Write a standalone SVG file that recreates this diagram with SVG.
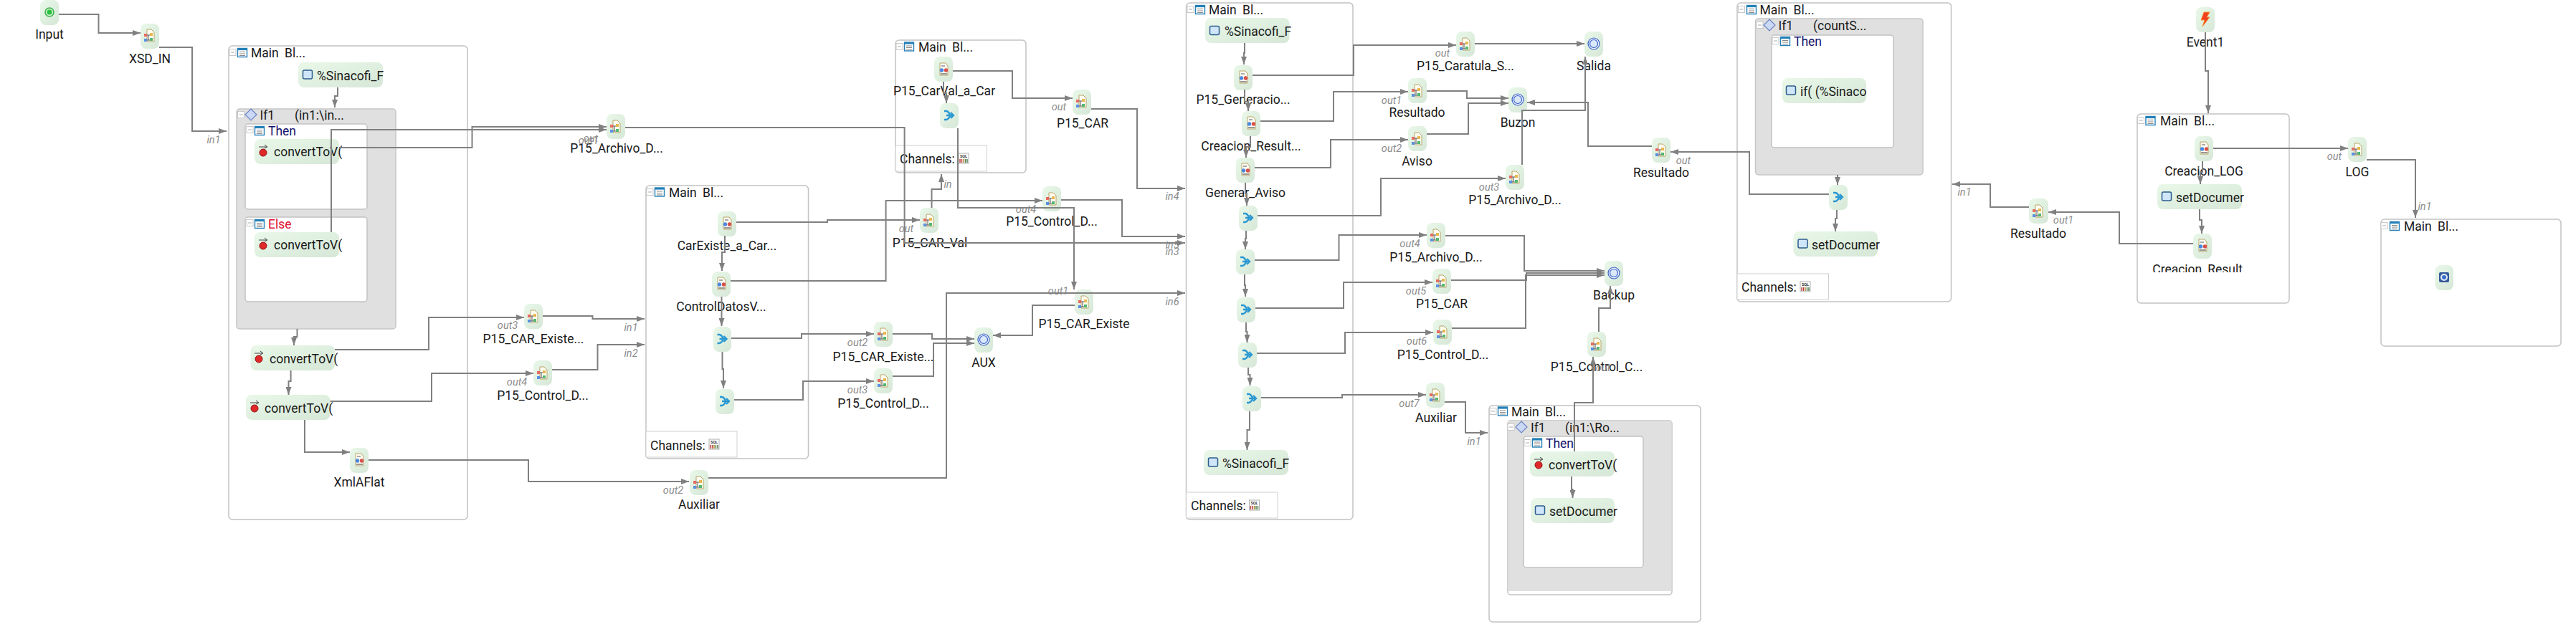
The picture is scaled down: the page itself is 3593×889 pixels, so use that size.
<svg xmlns="http://www.w3.org/2000/svg" width="3593" height="889" viewBox="0 0 3593 889">
<style>
text{font-family:Roboto,"Liberation Sans",Arial,sans-serif;font-size:17.5px;fill:#1a1a1a}
.lb{text-anchor:middle}
.ti{word-spacing:4px}
.pt{text-anchor:middle;font-style:italic;font-size:14.5px;fill:#8c8c8c}
.then{fill:#14146e}
.else{fill:#e01030}
.nb{fill:url(#ng)}
.box{fill:#fff;stroke:#c2c2c2;stroke-width:1.5}
.ifb{fill:#e0e0e0;stroke:#c6c6c6;stroke-width:1.5}
.ch{fill:#fff;stroke:#cfcfcf;stroke-width:1}
.cn path{fill:none;stroke:#808080;stroke-width:2;marker-end:url(#a)}
</style>
<defs>
<linearGradient id="ng" x1="0" y1="0" x2="1" y2="1"><stop offset="0" stop-color="#e9f8e9"/><stop offset="1" stop-color="#d6e7d7"/></linearGradient>
<marker id="a" viewBox="0 0 11 8" refX="11" refY="4" markerWidth="11" markerHeight="8" markerUnits="userSpaceOnUse" orient="auto"><path d="M0 0L11 4L0 8z" fill="#808080"/></marker>
<clipPath id="clipL"><rect x="2990" y="360" width="170" height="20"/></clipPath>
<g id="i-start"><circle r="6" fill="#c8f0c8" stroke="#38b048" stroke-width="1.500"/><circle r="3.500" fill="#2cc040"/></g>
<g id="i-doc"><path d="M-3-9H3L7-5V8H-3z" fill="#fffdf2" stroke="#b8a468"/><rect x="-7" y="-3" width="4" height="4" fill="#e86a60"/><rect x="1" y="-4" width="4" height="4" fill="#e8b850"/><rect x="-7" y="4" width="4" height="4" fill="#5a90e0"/><rect x="1" y="3" width="4" height="4" fill="#50b870"/><path d="M-3-1H1M-3 6H1M-1-1V6" stroke="#556" fill="none"/></g>
<g id="i-xf"><path d="M-5-9H3L6-5V8H-5z" fill="#fffdf2" stroke="#b8a468"/><path d="M-3-5H2" stroke="#556" stroke-width="1"/><circle cx="-2.500" cy="1" r="2.700" fill="#4a88e0"/><circle cx="3.500" cy="1" r="2.700" fill="#d8504c"/><path d="M-4 6H5" stroke="#334" stroke-width="1"/></g>
<g id="i-merge"><path d="M-7-6H-4C-1-6 0-2 2 0C0 2-1 6-4 6H-7M-4 0H6M2-4L6 0L2 4" fill="none" stroke="#2a98d2" stroke-width="2.400"/></g>
<g id="i-end"><circle r="8" fill="#eaf2fc" stroke="#3a60c8" stroke-width="1.200"/><circle r="5.500" fill="#dbe8fa" stroke="#3a60c8" stroke-width="1.200"/></g>
<g id="i-assign"><rect x="-6.500" y="-6" width="13" height="12" rx="2" fill="#cfe6fa" stroke="#2c5c8c" stroke-width="1.500"/></g>
<g id="i-call"><circle cy="1" r="5" fill="#e02828" stroke="#901010" stroke-width="1"/><path d="M-6-7H5M2-10L6-7L2-5" fill="none" stroke="#444" stroke-width="1"/></g>
<g id="i-event"><path d="M-2-10H6L2-3H6L-4 10L-1 1H-6z" fill="#f04020" stroke="#f89030" stroke-width="1"/></g>
<g id="i-stop"><rect x="-7" y="-7" width="14" height="14" rx="2" fill="#355a98"/><circle r="5" fill="#e4ecf8"/><circle r="3" fill="#3a70c8"/></g>
<g id="i-table"><rect x="-6.500" y="-6" width="13" height="12" fill="#fff" stroke="#2480b8" stroke-width="1.400"/><rect x="-6.500" y="-6" width="13" height="2.600" fill="#2480b8"/><path d="M-4-1H4M-4 1.500H4M-4 4H4" stroke="#888"/></g>
<g id="i-minus"><rect x="-4.500" y="-4.500" width="9" height="9" fill="#fff" stroke="#c8c8c8"/><path d="M-2.500 0H2.500" stroke="#aaa"/></g>
<g id="i-diamond"><path d="M0-8L8 0L0 8L-8 0z" fill="#ccd9f6" stroke="#6a84c4" stroke-width="1.200"/></g>
<g id="i-sql"><rect x="-7" y="-7" width="14" height="14" fill="#fff" stroke="#b0b0b0"/><text x="0" y="-1" style="font-size:5.500px;font-weight:bold;text-anchor:middle;fill:#333">SQL</text><path d="M-5 1V6M-2.500 1V6" stroke="#c04040" stroke-width="1.500"/><path d="M0 1V6" stroke="#b09030" stroke-width="1.500"/><path d="M2.500 1V6M5 1V6" stroke="#508050" stroke-width="1.500"/></g>
</defs>
<rect width="3593" height="889" fill="#fff"/>

<g id="blocks">
<g id="main1"><rect class="box" x="319" y="64" width="333" height="661" rx="5"/><use href="#i-minus" x="324.500" y="73"/><use href="#i-table" x="338" y="73.500"/><text class="ti" x="350" y="80">Main Bl...</text></g>
<g id="if1"><rect class="ifb" x="330" y="152" width="222" height="307" rx="4"/><use href="#i-minus" x="336" y="160"/><use href="#i-diamond" x="350" y="160"/><text x="362.500" y="167">If1<tspan x="411">(in1:\in...</tspan></text></g>
<g id="then1"><rect class="box" x="342" y="173" width="170" height="119" rx="4"/><use href="#i-minus" x="348.500" y="181"/><use href="#i-table" x="362" y="182.500"/><text class="then" x="374" y="189">Then</text></g>
<g id="else1"><rect class="box" x="342" y="303" width="170" height="118" rx="4"/><use href="#i-minus" x="348.500" y="311"/><use href="#i-table" x="362" y="312.500"/><text class="else" x="374" y="319">Else</text></g>
<g id="main2"><rect class="box" x="901" y="259" width="226.500" height="381" rx="5"/><use href="#i-minus" x="906.500" y="268"/><use href="#i-table" x="920" y="268"/><text class="ti" x="933" y="275">Main Bl...</text><rect class="ch" x="901" y="602" width="127" height="36"/><text x="907" y="628">Channels:</text><use href="#i-sql" x="996" y="620"/></g>
<g id="main3"><rect class="box" x="1249" y="56" width="182" height="185" rx="5"/><use href="#i-minus" x="1254.500" y="65"/><use href="#i-table" x="1268" y="65"/><text class="ti" x="1281" y="72">Main Bl...</text><rect class="ch" x="1249" y="203" width="127.500" height="36"/><text x="1255" y="228">Channels:</text><use href="#i-sql" x="1344" y="221"/></g>
<g id="main4"><rect class="box" x="1654.500" y="4" width="232.500" height="721" rx="5"/><use href="#i-minus" x="1660.500" y="13"/><use href="#i-table" x="1674" y="13.500"/><text class="ti" x="1686" y="20">Main Bl...</text><rect class="ch" x="1654.500" y="687" width="127.500" height="36"/><text x="1661" y="712">Channels:</text><use href="#i-sql" x="1749.500" y="705"/></g>
<g id="main5"><rect class="box" x="2423" y="4" width="298.500" height="417" rx="5"/><use href="#i-minus" x="2429" y="13"/><use href="#i-table" x="2443" y="13.500"/><text class="ti" x="2454.500" y="20">Main Bl...</text><rect class="ch" x="2423" y="382" width="127.500" height="36"/><text x="2429" y="407">Channels:</text><use href="#i-sql" x="2518" y="400"/></g>
<g id="if5"><rect class="ifb" x="2448.500" y="26" width="233.500" height="218" rx="4"/><use href="#i-minus" x="2454.500" y="35"/><use href="#i-diamond" x="2468" y="35"/><text x="2480.500" y="42">If1<tspan x="2529">(countS...</tspan></text></g>
<g id="then5"><rect class="box" x="2471" y="49" width="170" height="157" rx="4"/><use href="#i-minus" x="2476.500" y="57"/><use href="#i-table" x="2490" y="57.500"/><text class="then" x="2502" y="64">Then</text></g>
<g id="main6"><rect class="box" x="2077" y="566" width="295" height="302" rx="5"/><use href="#i-minus" x="2082.500" y="574"/><use href="#i-table" x="2096" y="574"/><text class="ti" x="2108" y="581">Main Bl...</text></g>
<g id="if6"><rect class="box" x="2103" y="587" width="229" height="243" rx="4"/><rect x="2103.500" y="587.500" width="228" height="237.500" fill="#e0e0e0"/><use href="#i-minus" x="2107.500" y="596"/><use href="#i-diamond" x="2122" y="596"/><text x="2135" y="603">If1<tspan x="2183">(in1:\Ro...</tspan></text></g>
<g id="then6"><rect class="box" x="2125" y="609" width="167" height="183" rx="4"/><use href="#i-minus" x="2130.500" y="618"/><use href="#i-table" x="2144" y="618"/><text class="then" x="2156" y="625">Then</text></g>
<g id="main7"><rect class="box" x="2981" y="159" width="212" height="264" rx="5"/><use href="#i-minus" x="2986" y="168"/><use href="#i-table" x="2999.500" y="168.500"/><text class="ti" x="3013" y="175">Main Bl...</text></g>
<g id="main8"><rect class="box" x="3321" y="306" width="251" height="177" rx="5"/><use href="#i-minus" x="3325.500" y="315"/><use href="#i-table" x="3340" y="315.500"/><text class="ti" x="3353" y="322">Main Bl...</text></g>
</g>

<g id="nodes">
<g id="n-input"><rect class="nb" x="56" y="0" width="26" height="35" rx="8"/><use href="#i-start" x="69" y="17"/><text class="lb" x="69" y="54">Input</text></g>
<g id="n-xsd-in"><rect class="nb" x="196" y="33" width="26" height="35" rx="8"/><use href="#i-doc" x="208" y="50"/><text class="lb" x="209" y="88">XSD_IN</text></g>
<g id="n-sinacofi1"><rect class="nb" x="416" y="87" width="118" height="35" rx="8"/><use href="#i-assign" x="429" y="104"/><text x="442" y="112">%Sinacofi_F</text></g>
<g id="n-conv1"><rect class="nb" x="355" y="194" width="118" height="35" rx="8"/><use href="#i-call" x="367" y="212"/><text x="382" y="218">convertToV(</text></g>
<g id="n-conv2"><rect class="nb" x="355" y="324" width="118" height="35" rx="8"/><use href="#i-call" x="367" y="342"/><text x="382" y="348">convertToV(</text></g>
<g id="n-conv3"><rect class="nb" x="349.500" y="482" width="117.500" height="35" rx="8"/><use href="#i-call" x="361" y="500"/><text x="376" y="507">convertToV(</text></g>
<g id="n-conv4"><rect class="nb" x="343" y="551" width="117.500" height="35" rx="8"/><use href="#i-call" x="355" y="569"/><text x="369" y="576">convertToV(</text></g>
<g id="n-xmlaflat"><rect class="nb" x="488" y="625" width="26" height="35" rx="8"/><use href="#i-xf" x="501" y="642"/><text class="lb" x="501" y="679">XmlAFlat</text></g>
<g id="n-archivo1"><rect class="nb" x="846" y="159" width="26" height="35" rx="8"/><use href="#i-doc" x="858" y="177"/><text class="lb" x="860" y="213">P15_Archivo_D...</text><text class="pt" x="821" y="201">out1</text><text class="pt" x="824" y="198">out</text></g>
<g id="n-carexiste1"><rect class="nb" x="731" y="424" width="26" height="35" rx="8"/><use href="#i-doc" x="743" y="442"/><text class="lb" x="744" y="479">P15_CAR_Existe...</text><text class="pt" x="708" y="459">out3</text></g>
<g id="n-control1"><rect class="nb" x="744" y="503" width="26" height="35" rx="8"/><use href="#i-doc" x="756" y="521"/><text class="lb" x="757" y="558">P15_Control_D...</text><text class="pt" x="721" y="538">out4</text></g>
<g id="n-auxiliar1"><rect class="nb" x="962" y="656" width="26" height="35" rx="8"/><use href="#i-doc" x="974" y="674"/><text class="lb" x="975" y="710">Auxiliar</text><text class="pt" x="939" y="689">out2</text></g>
<g id="n-carexiste-a"><rect class="nb" x="1001" y="295" width="26" height="35" rx="8"/><use href="#i-xf" x="1014" y="312"/><text class="lb" x="1014" y="349">CarExiste_a_Car...</text></g>
<g id="n-controldatos"><rect class="nb" x="993" y="379" width="26" height="35" rx="8"/><use href="#i-xf" x="1006" y="396"/><text class="lb" x="1006" y="434">ControlDatosV...</text></g>
<g id="n-merge1"><rect class="nb" x="995" y="456" width="25" height="35" rx="8"/><use href="#i-merge" x="1007.500" y="473"/></g>
<g id="n-merge2"><rect class="nb" x="998" y="543" width="26" height="35" rx="8"/><use href="#i-merge" x="1011" y="560"/></g>
<g id="n-carexiste2"><rect class="nb" x="1219" y="449" width="26" height="35" rx="8"/><use href="#i-doc" x="1231" y="467"/><text class="lb" x="1232" y="504">P15_CAR_Existe...</text><text class="pt" x="1196" y="483">out2</text></g>
<g id="n-control2"><rect class="nb" x="1219" y="514" width="26" height="35" rx="8"/><use href="#i-doc" x="1231" y="532"/><text class="lb" x="1232" y="569">P15_Control_D...</text><text class="pt" x="1196" y="549">out3</text></g>
<g id="n-aux"><rect class="nb" x="1359" y="457" width="26" height="35" rx="8"/><use href="#i-end" x="1372" y="474"/><text class="lb" x="1372" y="512">AUX</text></g>
<g id="n-carexiste3"><rect class="nb" x="1499" y="404" width="26" height="35" rx="8"/><use href="#i-doc" x="1511" y="422"/><text class="lb" x="1512" y="458">P15_CAR_Existe</text><text class="pt" x="1476" y="411">out1</text></g>
<g id="n-carval"><rect class="nb" x="1283" y="290" width="26" height="35" rx="8"/><use href="#i-doc" x="1295" y="308"/><text class="lb" x="1297" y="345">P15_CAR_Val</text><text class="pt" x="1264" y="324">out</text></g>
<g id="n-control3"><rect class="nb" x="1454" y="260" width="26" height="35" rx="8"/><use href="#i-doc" x="1466" y="278"/><text class="lb" x="1467" y="315">P15_Control_D...</text><text class="pt" x="1431" y="297">out4</text></g>
<g id="n-carval-a"><rect class="nb" x="1303" y="79" width="26" height="35" rx="8"/><use href="#i-xf" x="1316" y="97"/><text class="lb" x="1317" y="133">P15_CarVal_a_Car</text></g>
<g id="n-merge3"><rect class="nb" x="1311" y="144" width="26" height="35" rx="8"/><use href="#i-merge" x="1324" y="161"/></g>
<g id="n-car1"><rect class="nb" x="1496" y="125" width="26" height="35" rx="8"/><use href="#i-doc" x="1508" y="142"/><text class="lb" x="1510" y="178">P15_CAR</text><text class="pt" x="1477" y="154">out</text></g>
<g id="n-sinacofi2"><rect class="nb" x="1681" y="25" width="117.500" height="35" rx="8"/><use href="#i-assign" x="1694" y="42.500"/><text x="1708" y="50">%Sinacofi_F</text></g>
<g id="n-generacio"><rect class="nb" x="1721" y="91" width="26" height="35" rx="8"/><use href="#i-xf" x="1734" y="108"/><text class="lb" x="1734" y="145">P15_Generacio...</text></g>
<g id="n-creacion-res"><rect class="nb" x="1732" y="155" width="26" height="35" rx="8"/><use href="#i-xf" x="1745" y="172"/><text class="lb" x="1745" y="210">Creacion_Result...</text></g>
<g id="n-generar"><rect class="nb" x="1724" y="220" width="26" height="35" rx="8"/><use href="#i-xf" x="1737" y="237"/><text class="lb" x="1737" y="275">Generar_Aviso</text></g>
<g id="n-mergeA"><rect class="nb" x="1728" y="287" width="26" height="35" rx="8"/><use href="#i-merge" x="1741" y="304"/></g>
<g id="n-mergeB"><rect class="nb" x="1724" y="348" width="26" height="35" rx="8"/><use href="#i-merge" x="1737" y="365"/></g>
<g id="n-mergeC"><rect class="nb" x="1725" y="415" width="26" height="35" rx="8"/><use href="#i-merge" x="1738" y="432"/></g>
<g id="n-mergeD"><rect class="nb" x="1727" y="478" width="26" height="35" rx="8"/><use href="#i-merge" x="1740" y="495"/></g>
<g id="n-mergeE"><rect class="nb" x="1733" y="539" width="26" height="35" rx="8"/><use href="#i-merge" x="1746" y="556"/></g>
<g id="n-sinacofi3"><rect class="nb" x="1679" y="628" width="118" height="35" rx="8"/><use href="#i-assign" x="1692" y="645"/><text x="1705" y="653">%Sinacofi_F</text></g>
<g id="n-caratula"><rect class="nb" x="2031" y="44" width="26" height="35" rx="8"/><use href="#i-doc" x="2043" y="62"/><text class="lb" x="2044" y="98">P15_Caratula_S...</text><text class="pt" x="2012" y="79">out</text></g>
<g id="n-salida"><rect class="nb" x="2210" y="44" width="26" height="35" rx="8"/><use href="#i-end" x="2223" y="61"/><text class="lb" x="2223" y="98">Salida</text></g>
<g id="n-resultado1"><rect class="nb" x="1964" y="109" width="26" height="35" rx="8"/><use href="#i-doc" x="1976" y="127"/><text class="lb" x="1976.500" y="163">Resultado</text><text class="pt" x="1941" y="145">out1</text></g>
<g id="n-aviso"><rect class="nb" x="1964" y="176" width="26" height="35" rx="8"/><use href="#i-doc" x="1976" y="194"/><text class="lb" x="1976.500" y="231">Aviso</text><text class="pt" x="1941" y="212">out2</text></g>
<g id="n-buzon"><rect class="nb" x="2104" y="122" width="26" height="35" rx="8"/><use href="#i-end" x="2117" y="139"/><text class="lb" x="2117" y="177">Buzon</text></g>
<g id="n-archivo3"><rect class="nb" x="2100" y="230" width="26" height="35" rx="8"/><use href="#i-doc" x="2112" y="248"/><text class="lb" x="2113" y="285">P15_Archivo_D...</text><text class="pt" x="2077" y="266">out3</text></g>
<g id="n-resultado2"><rect class="nb" x="2304" y="192" width="26" height="35" rx="8"/><use href="#i-doc" x="2316" y="210"/><text class="lb" x="2317" y="247">Resultado</text><text class="pt" x="2348" y="229">out</text></g>
<g id="n-if-sinaco"><rect class="nb" x="2486" y="109" width="117" height="35" rx="8"/><use href="#i-assign" x="2498" y="126"/><text x="2511" y="134">if( (%Sinaco</text></g>
<g id="n-mergeF"><rect class="nb" x="2551" y="258" width="26" height="35" rx="8"/><use href="#i-merge" x="2564" y="275"/></g>
<g id="n-setdoc1"><rect class="nb" x="2501.500" y="323" width="117.500" height="35" rx="8"/><use href="#i-assign" x="2514.500" y="340"/><text x="2527" y="348">setDocumer</text></g>
<g id="n-archivo4"><rect class="nb" x="1990" y="311" width="26" height="35" rx="8"/><use href="#i-doc" x="2002" y="329"/><text class="lb" x="2003" y="365">P15_Archivo_D...</text><text class="pt" x="1966.500" y="345">out4</text></g>
<g id="n-car2"><rect class="nb" x="1998" y="375" width="26" height="35" rx="8"/><use href="#i-doc" x="2010" y="393"/><text class="lb" x="2011" y="430">P15_CAR</text><text class="pt" x="1975" y="411">out5</text></g>
<g id="n-control4"><rect class="nb" x="1999" y="446" width="26" height="35" rx="8"/><use href="#i-doc" x="2011" y="464"/><text class="lb" x="2012.500" y="501">P15_Control_D...</text><text class="pt" x="1976" y="481">out6</text></g>
<g id="n-auxiliar2"><rect class="nb" x="1989" y="534" width="26" height="35" rx="8"/><use href="#i-doc" x="2001" y="552"/><text class="lb" x="2003" y="589">Auxiliar</text><text class="pt" x="1965.500" y="568">out7</text></g>
<g id="n-backup"><rect class="nb" x="2238" y="364" width="26" height="35" rx="8"/><use href="#i-end" x="2251" y="381"/><text class="lb" x="2251" y="418">Backup</text></g>
<g id="n-control-c"><rect class="nb" x="2214" y="463" width="26" height="35" rx="8"/><use href="#i-doc" x="2226" y="481"/><text class="lb" x="2227" y="518">P15_Control_C...</text><text class="pt" x="2236" y="518">out</text></g>
<g id="n-conv5"><rect class="nb" x="2134" y="630" width="118" height="35" rx="8"/><use href="#i-call" x="2146" y="648"/><text x="2160" y="655">convertToV(</text></g>
<g id="n-setdoc2"><rect class="nb" x="2135" y="695" width="117" height="35" rx="8"/><use href="#i-assign" x="2148" y="712"/><text x="2161" y="720">setDocumer</text></g>
<g id="n-event1"><rect class="nb" x="3063" y="10" width="26" height="35" rx="8"/><use href="#i-event" x="3076" y="27"/><text class="lb" x="3076" y="65">Event1</text></g>
<g id="n-creacion-log"><rect class="nb" x="3061" y="190" width="26" height="35" rx="8"/><use href="#i-xf" x="3074" y="207"/><text class="lb" x="3074" y="245">Creacion_LOG</text></g>
<g id="n-setdoc3"><rect class="nb" x="3009" y="257" width="118" height="35" rx="8"/><use href="#i-assign" x="3022" y="274"/><text x="3035" y="282">setDocumer</text></g>
<g id="n-creacion-res2"><rect class="nb" x="3059" y="326" width="26" height="35" rx="8"/><use href="#i-xf" x="3072" y="343"/><text class="lb" x="3072" y="382" clip-path="url(#clipL)">Creacion_Result...</text></g>
<g id="n-resultado3"><rect class="nb" x="2830" y="277" width="27" height="35" rx="8"/><use href="#i-doc" x="2842" y="295"/><text class="lb" x="2843" y="332">Resultado</text><text class="pt" x="2878" y="312">out1</text></g>
<g id="n-log"><rect class="nb" x="3275" y="191" width="26" height="35" rx="8"/><use href="#i-doc" x="3287" y="209"/><text class="lb" x="3288" y="246">LOG</text><text class="pt" x="3256" y="223">out</text></g>
<g id="n-stop"><rect class="nb" x="3396.500" y="370" width="25.500" height="35" rx="8"/><use href="#i-stop" x="3409" y="387"/></g>
</g>

<g id="ports">
<text class="pt" x="298" y="200">in1</text>
<text class="pt" x="880" y="462">in1</text>
<text class="pt" x="880" y="498">in2</text>
<text class="pt" x="1322" y="262">in</text>
<text class="pt" x="1635" y="279">in4</text>
<text class="pt" x="1635" y="347">in5</text>
<text class="pt" x="1635" y="356">in3</text>
<text class="pt" x="1635" y="426">in6</text>
<text class="pt" x="2056" y="621">in1</text>
<text class="pt" x="2740" y="273">in1</text>
<text class="pt" x="3382" y="293">in1</text>
</g>

<g id="connectors" class="cn">
<path d="M82 20H137.500V46H196"/>
<path d="M222 66H268V183H316"/>
<path d="M471 122V134H467V150"/>
<path d="M473 206H658.500V177H846"/>
<path d="M462 324V181H846"/>
<path d="M414.500 459V470H410V482"/>
<path d="M405.600 517V532H402.500V551"/>
<path d="M467 488H598V443H731"/>
<path d="M757 441H826.500V445H899"/>
<path d="M460.500 560H602V521H744"/>
<path d="M770 516H833.500V481H899"/>
<path d="M425 586V631H488"/>
<path d="M514 642H737V672H961"/>
<path d="M988 667H1320V409H1653"/>
<path d="M872 178H1261.600V339H1653"/>
<path d="M1027 310H1154V307H1283"/>
<path d="M1011 329V352H1007V378"/>
<path d="M1019 392H1235.600V280H1454"/>
<path d="M1480 279H1565V330H1653"/>
<path d="M1006.500 414V455"/>
<path d="M1007.500 491V515H1009V542"/>
<path d="M1020 472H1118V466H1219"/>
<path d="M1024 558H1120V532H1219"/>
<path d="M1245 466H1300V473H1359"/>
<path d="M1245 525H1302V479H1359"/>
<path d="M1499 426H1440V468H1385"/>
<path d="M1336 179V290H1498V404"/>
<path d="M1316 114V130H1320V144"/>
<path d="M1329 99H1412V137H1496"/>
<path d="M1522 152H1586V263H1653"/>
<path d="M1299.500 290V264H1313V243"/>
<path d="M1736 60V74H1735V90"/>
<path d="M1736 125V142H1741V155"/>
<path d="M1744 190V205H1738V220"/>
<path d="M1737 255V270H1739V287"/>
<path d="M1738 322V333H1737V348"/>
<path d="M1736 383V398H1737V414"/>
<path d="M1738 450V463H1739.500V478"/>
<path d="M1741 513V523H1743.500V538"/>
<path d="M1743 574V600H1739.500V628"/>
<path d="M1747 105H1888V63H2031"/>
<path d="M2057 61H2210"/>
<path d="M1758 169H1860V128H1964"/>
<path d="M1990 127H2046V137H2104"/>
<path d="M1750 234H1856V195H1964"/>
<path d="M1990 187H2048V144H2104"/>
<path d="M1754 301H1926V249H2100"/>
<path d="M2123 230V154H2211V79"/>
<path d="M2304 204H2215V143H2130"/>
<path d="M2551 271H2440V212H2330"/>
<path d="M2563 244V258"/>
<path d="M2562 293V305H2560V323"/>
<path d="M1750 363H1867.500V328H1990"/>
<path d="M1751 430H1874V394H1998"/>
<path d="M1753 493H1876V464H1999"/>
<path d="M1759 555H1872V551H1989"/>
<path d="M2016 329H2126V378H2238"/>
<path d="M2024 391H2129V381H2238"/>
<path d="M2025 458H2128V384H2238"/>
<path d="M2230 463V430H2246V399"/>
<path d="M2015 561H2044V604H2075"/>
<path d="M2192 665V683H2193.500V695"/>
<path d="M2196 630V562H2222V498"/>
<path d="M3076 45V99H3080V158"/>
<path d="M3072 225V240H3069V257"/>
<path d="M3068 292V307H3071V326"/>
<path d="M3059 340H2956V296H2857"/>
<path d="M2830 289H2776V257H2723"/>
<path d="M3087 207H3275"/>
<path d="M3301 223H3369V304"/>
</g>
</svg>
